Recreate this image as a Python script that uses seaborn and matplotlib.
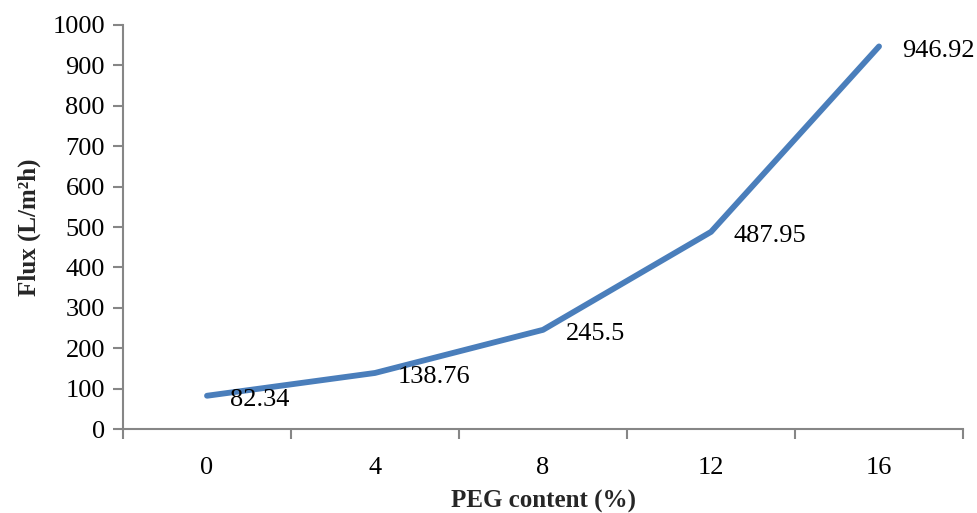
import matplotlib
matplotlib.use("Agg")
import matplotlib.pyplot as plt
import seaborn as sns
import numpy as np
import pandas as pd

categories = ["0", "4", "8", "12", "16"]
flux = [82.34, 138.76, 245.5, 487.95, 946.92]
value_labels = ["82.34", "138.76", "245.5", "487.95", "946.92"]
yticks = [0, 100, 200, 300, 400, 500, 600, 700, 800, 900, 1000]

sns.set_theme(style="white")
plt.rcParams["font.family"] = ["Liberation Serif", "DejaVu Serif"]

df = pd.DataFrame({"pos": np.arange(len(categories)), "flux": flux})

fig = plt.figure(figsize=(9.77, 5.13), dpi=100)
ax = fig.add_axes([0.1259, 0.1637, 0.8598, 0.7876])
sns.lineplot(data=df, x="pos", y="flux", ax=ax, color="#4A7EBB", linewidth=4.2,
             solid_capstyle="round", solid_joinstyle="round")

for xi, yi, lab in zip(df["pos"], flux, value_labels):
    ax.annotate(lab, (xi, yi), xytext=(16.5, -3), textcoords="offset points",
                ha="left", va="center", fontsize=19, color="black")

ax.set_xlim(-0.5, len(categories) - 0.5)
ax.set_ylim(0, 1000)
ax.set_yticks(yticks)
ax.set_yticklabels([str(t) for t in yticks], fontsize=19)
ax.set_xticks(df["pos"])
ax.set_xticklabels(categories, fontsize=19)
ax.set_xticks(np.arange(-0.5, len(categories), 1.0), minor=True)
ax.tick_params(axis="x", which="major", bottom=True, length=0, pad=20, colors="black")
ax.tick_params(axis="x", which="minor", bottom=True, length=7, width=1.5, color="#868686", direction="out")
ax.tick_params(axis="y", which="major", left=True, length=7, width=1.5, color="#868686", direction="out", pad=6, labelcolor="black")

for s in ["top", "right"]:
    ax.spines[s].set_visible(False)
for s in ["left", "bottom"]:
    ax.spines[s].set_color("#868686")
    ax.spines[s].set_linewidth(1.5)

ax.set_xlabel("PEG content (%)", fontsize=18, fontweight="bold", labelpad=8)
ax.set_ylabel("Flux (L/m²h)", fontsize=18, fontweight="bold", labelpad=8)
ax.grid(False)

fig.savefig("out.png", dpi=100)
